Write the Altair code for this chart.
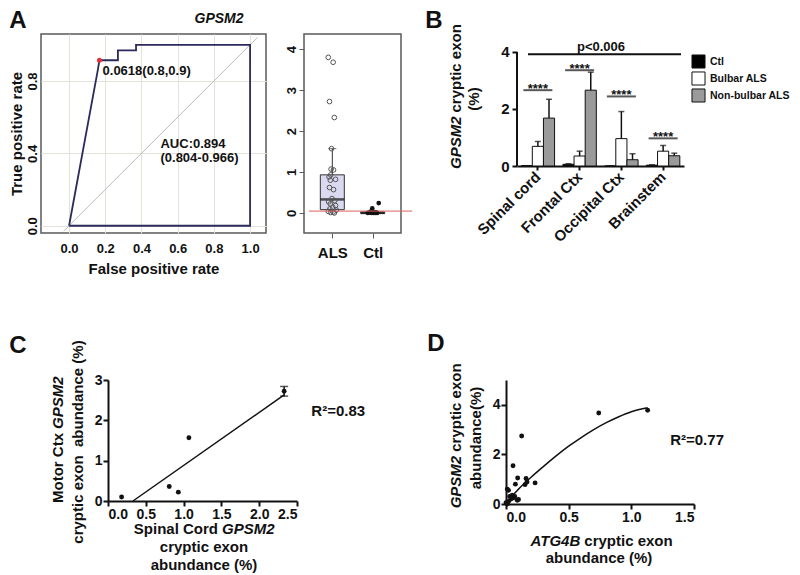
import altair as alt
import pandas as pd

FONT = "Liberation Sans"
INK = "#111111"
LAVENDER = "#dad9f0"
NAVY = "#2a2a5c"
GRID = "#e3e3da"
FRAME = "#5a5a5a"

# ---------------- Panel A (left): ROC curve ----------------
roc_fpr = [0.0, 0.158, 0.168, 0.27, 0.27, 0.37, 0.37, 1.0]
roc_tpr = [0.0, 0.856, 0.915, 0.915, 0.97, 0.97, 1.0, 1.0]
roc_close_fpr = [1.0, 0.0]
roc_close_tpr = [0.0, 0.0]
chance_xy = [-0.03, 1.04]
best_fpr = [0.168]
best_tpr = [0.915]
roc_grid = [0.0, 0.1, 0.2, 0.3, 0.4, 0.5, 0.6, 0.7, 0.8, 0.9, 1.0]
roc_notes = ["0.0618(0.8,0.9)", "AUC:0.894", "(0.804-0.966)"]
roc_note_x = [0.185, 0.505, 0.505]
roc_note_y = [0.855, 0.452, 0.374]

# ---------------- Panel A (right): box plot ----------------
box_pos = [1, 2]
box_low = [0.0, -0.01]
box_q1 = [0.08, -0.01]
box_median = [0.33, 0.0]
box_q3 = [0.93, 0.02]
box_high = [1.57, 0.04]
als_vals = [3.80, 3.68, 2.72, 2.33, 1.57, 1.07, 1.05, 0.93, 0.88, 0.82, 0.80, 0.62, 0.57,
            0.35, 0.30, 0.27, 0.22, 0.18, 0.14, 0.10, 0.07, 0.04, 0.02, 0.01, 0.0]
als_jitter = [0.90, 1.02, 0.93, 1.05, 0.98, 0.97, 1.03, 0.96, 0.92, 1.08, 0.95, 0.93, 1.03,
              0.99, 1.06, 0.91, 0.95, 1.08, 1.01, 0.94, 1.10, 0.90, 1.02, 0.96, 1.05]
ctl_vals = [0.24, 0.11, 0.03, 0.02, 0.01, 0.01, 0.0, 0.0, 0.0, 0.0, 0.0]
ctl_jitter = [2.15, 1.99, 1.95, 2.05, 1.92, 2.09, 1.97, 2.02, 2.11, 1.88, 2.06]
cutoff_value = [0.045]

# ---------------- Panel B: bars ----------------
regions = ["Spinal cord", "Frontal Ctx", "Occipital Ctx", "Brainstem"]
groups = ["Ctl", "Bulbar ALS", "Non-bulbar ALS"]
ctl_mean = [0.01, 0.06, 0.0, 0.03]
ctl_err = [0.0, 0.02, 0.0, 0.01]
bulbar_mean = [0.69, 0.35, 0.96, 0.52]
bulbar_err = [0.17, 0.17, 0.95, 0.20]
nonbulbar_mean = [1.68, 2.66, 0.22, 0.36]
nonbulbar_err = [0.66, 0.63, 0.21, 0.09]
sig_level = [2.66, 3.36, 2.44, 0.97]
overall_p_level = [3.92]

# ---------------- Panel C ----------------
c_x = [0.18, 0.81, 0.93, 1.07, 2.33]
c_y = [0.10, 0.36, 0.22, 1.57, 2.72]
c_err = [0.0, 0.0, 0.0, 0.0, 0.12]
c_fit_x = [0.33, 2.33]
c_fit_y = [0.0, 2.63]

# ---------------- Panel D ----------------
d_x = [1.13, 0.74, 0.125, 0.056, 0.093, 0.16, 0.168, 0.152, 0.232, 0.075,
       0.01, 0.02, 0.03, 0.05, 0.06, 0.07, 0.04, 0.02, 0.0, 0.01, 0.10, 0.09]
d_y = [3.78, 3.67, 2.74, 1.54, 1.05, 1.03, 0.89, 0.78, 0.85, 0.80,
       0.60, 0.55, 0.30, 0.35, 0.25, 0.30, 0.20, 0.10, 0.05, 0.0, 0.18, 0.15]
d_fit_x = [0.0, 0.05, 0.1, 0.2, 0.3, 0.4, 0.5, 0.6, 0.7, 0.8, 0.9, 1.0, 1.13]
d_fit_y = [0.05, 0.32, 0.6, 1.08, 1.52, 1.94, 2.33, 2.68, 3.0, 3.28, 3.52, 3.72, 3.88]


def label(text, x, y, size=15, weight="bold", style="normal", align="center",
          angle=0, dx=0, baseline="middle"):
    return alt.Chart(pd.DataFrame({"t": [text]})).mark_text(
        font=FONT, fontSize=size, fontWeight=weight, fontStyle=style, color=INK,
        align=align, angle=angle, dx=dx, baseline=baseline
    ).encode(x=alt.value(x), y=alt.value(y), text="t:N")


# ======================= ROC =======================
xs_roc = alt.Scale(domain=[-0.155, 1.088], nice=False, zero=False)
ys_roc = alt.Scale(domain=[-0.04, 1.06], nice=False, zero=False)
even = "round(datum.value * 10) % 2 == 0 ? format(datum.value, '.1f') : ''"
roc_xaxis = alt.Axis(values=roc_grid, labelExpr=even, grid=True, gridColor=GRID, ticks=False,
                     domain=False, labelFontSize=13, labelPadding=9, title="False positive rate",
                     titleFontSize=15, titlePadding=6)
roc_yaxis = alt.Axis(values=roc_grid, labelExpr=even, grid=True, gridColor=GRID, ticks=False,
                     domain=False, labelFontSize=13, labelAngle=270, labelAlign="center",
                     labelBaseline="bottom", labelPadding=2, title="True positive rate",
                     titleFontSize=15, titlePadding=2)

roc_df = pd.DataFrame({"fpr": roc_fpr, "tpr": roc_tpr, "base": [0.0] * len(roc_fpr)})
roc_df["i"] = range(len(roc_df))
outline_df = pd.DataFrame({"fpr": roc_fpr + roc_close_fpr, "tpr": roc_tpr + roc_close_tpr})
outline_df["i"] = range(len(outline_df))

roc_area = alt.Chart(roc_df).mark_area(color=LAVENDER, opacity=1).encode(
    x=alt.X("fpr:Q", scale=xs_roc, axis=roc_xaxis),
    y=alt.Y("tpr:Q", scale=ys_roc, axis=roc_yaxis),
    y2="base:Q", order="i:Q")
roc_chance = alt.Chart(pd.DataFrame({"fpr": chance_xy, "tpr": chance_xy})).mark_line(
    color="#bdbdbd", strokeWidth=1).encode(
    x=alt.X("fpr:Q", scale=xs_roc), y=alt.Y("tpr:Q", scale=ys_roc))
roc_line = alt.Chart(outline_df).mark_line(color=NAVY, strokeWidth=1.8).encode(
    x=alt.X("fpr:Q", scale=xs_roc), y=alt.Y("tpr:Q", scale=ys_roc), order="i:Q")
roc_best = alt.Chart(pd.DataFrame({"fpr": best_fpr, "tpr": best_tpr})).mark_point(
    filled=True, color="#e8303a", size=25, opacity=1).encode(
    x=alt.X("fpr:Q", scale=xs_roc), y=alt.Y("tpr:Q", scale=ys_roc))
roc_text = alt.Chart(pd.DataFrame({"fpr": roc_note_x, "tpr": roc_note_y, "note": roc_notes})).mark_text(
    font=FONT, fontSize=13, fontWeight="bold", color=INK, align="left").encode(
    x=alt.X("fpr:Q", scale=xs_roc), y=alt.Y("tpr:Q", scale=ys_roc), text="note:N")

roc = alt.layer(
    roc_area, roc_chance, roc_line, roc_best, roc_text,
    label("A", -23, -13, size=24),
    label("GPSM2", 178, -15, size=14, style="italic"),
).properties(width=225, height=199, view=alt.ViewBackground(stroke=FRAME, strokeWidth=1.5))

# ======================= Box plot =======================
xs_box = alt.Scale(domain=[0.422, 2.578], nice=False, zero=False)
ys_box = alt.Scale(domain=[-0.49, 4.37], nice=False, zero=False)
box_xaxis = alt.Axis(values=box_pos, labelExpr="datum.value == 1 ? 'ALS' : 'Ctl'", grid=False,
                     domain=False, tickSize=5, tickColor=FRAME, labelFontSize=15, labelPadding=7,
                     title=None)
box_yaxis = alt.Axis(values=[0, 1, 2, 3, 4], format="d", grid=False, domain=False, tickSize=5,
                     tickColor=FRAME, labelAngle=270, labelAlign="center", labelBaseline="bottom",
                     labelPadding=1, labelFontSize=13, title=None)

box_df = pd.DataFrame({"pos": box_pos, "low": box_low, "q1": box_q1, "med": box_median,
                       "q3": box_q3, "high": box_high})
als_df = pd.DataFrame({"pos": als_jitter, "v": als_vals})
ctl_df = pd.DataFrame({"pos": ctl_jitter, "v": ctl_vals})
cut_df = pd.DataFrame({"x0": [0.422], "x1": [2.98], "v": cutoff_value})

bx = alt.X("pos:Q", scale=xs_box, axis=box_xaxis)
box_whisk_hi = alt.Chart(box_df).mark_rule(color="#333", strokeWidth=1).encode(
    x=bx, y=alt.Y("q3:Q", scale=ys_box, axis=box_yaxis), y2="high:Q")
box_whisk_lo = alt.Chart(box_df).mark_rule(color="#333", strokeWidth=1).encode(
    x=alt.X("pos:Q", scale=xs_box), y=alt.Y("low:Q", scale=ys_box), y2="q1:Q")
box_cap_hi = alt.Chart(box_df).mark_tick(color="#333", orient="horizontal", size=8, thickness=1).encode(
    x=alt.X("pos:Q", scale=xs_box), y=alt.Y("high:Q", scale=ys_box))
box_body = alt.Chart(box_df).mark_bar(size=24, fill=LAVENDER, stroke="#333", strokeWidth=1).encode(
    x=alt.X("pos:Q", scale=xs_box), y=alt.Y("q1:Q", scale=ys_box), y2="q3:Q")
box_med = alt.Chart(box_df).mark_tick(color=INK, orient="horizontal", size=24, thickness=2.5).encode(
    x=alt.X("pos:Q", scale=xs_box), y=alt.Y("med:Q", scale=ys_box))
box_als = alt.Chart(als_df).mark_point(shape="circle", filled=False, color="#555", size=22,
                                       strokeWidth=1, opacity=1).encode(
    x=alt.X("pos:Q", scale=xs_box), y=alt.Y("v:Q", scale=ys_box))
box_ctl = alt.Chart(ctl_df).mark_point(shape="circle", filled=True, color=INK, size=22, opacity=1).encode(
    x=alt.X("pos:Q", scale=xs_box), y=alt.Y("v:Q", scale=ys_box))
box_cut = alt.Chart(cut_df).mark_rule(color="#e06060", strokeWidth=1).encode(
    x=alt.X("x0:Q", scale=xs_box), x2="x1:Q", y=alt.Y("v:Q", scale=ys_box))

boxp = alt.layer(box_whisk_hi, box_whisk_lo, box_cap_hi, box_body, box_med, box_als, box_ctl,
                 box_cut).properties(width=97, height=199,
                                     view=alt.ViewBackground(stroke=FRAME, strokeWidth=1.5))

# ======================= Panel B =======================
rows = []
for g, means, errs in [(groups[0], ctl_mean, ctl_err), (groups[1], bulbar_mean, bulbar_err),
                       (groups[2], nonbulbar_mean, nonbulbar_err)]:
    for r, m, e in zip(regions, means, errs):
        rows.append({"region": r, "group": g, "v": m, "top": m + e})
b_df = pd.DataFrame(rows)
sig_df = pd.DataFrame({"region": regions, "v": sig_level})

b_xaxis = alt.Axis(title=None, labelAngle=-45, labelAlign="right", labelBaseline="middle",
                   labelFontSize=15, domainColor=INK, domainWidth=2, tickColor=INK, tickWidth=2,
                   tickSize=4, labelPadding=4)
b_yaxis = alt.Axis(title=None, values=[0, 1, 2, 3, 4], domain=False, tickColor=INK, tickWidth=2,
                   tickSize=5, labelFontSize=15, labelPadding=3, grid=False)
xb = alt.X("region:N", sort=regions, scale=alt.Scale(paddingInner=0.2, paddingOuter=0.1), axis=b_xaxis)
xb_plain = alt.X("region:N", sort=regions)
xo = alt.XOffset("group:N", sort=groups, scale=alt.Scale(paddingInner=0, paddingOuter=0))
ys_b = alt.Scale(domain=[0, 4.63], nice=False, zero=True)

# legend position is relative to the top-left plot (panel A ROC) origin
b_bars = alt.Chart(b_df).mark_bar(stroke=INK, strokeWidth=1).encode(
    x=xb, xOffset=xo, y=alt.Y("v:Q", scale=ys_b, axis=b_yaxis),
    color=alt.Color("group:N", sort=groups,
                    scale=alt.Scale(domain=groups, range=["#000000", "#ffffff", "#9a9a9a"]),
                    legend=alt.Legend(title=None, orient="none", legendX=650, legendY=20,
                                      symbolType="square", symbolSize=170, symbolStrokeColor=INK,
                                      symbolStrokeWidth=1, labelFont=FONT, labelFontWeight="bold",
                                      labelFontSize=10.5, labelColor=INK, rowPadding=-3,
                                      labelOffset=4, padding=0)))
b_err = alt.Chart(b_df).mark_rule(color=INK, strokeWidth=1.5).encode(
    x=xb_plain, xOffset=xo, y=alt.Y("v:Q", scale=ys_b), y2="top:Q")
b_cap = alt.Chart(b_df).mark_tick(color=INK, orient="horizontal", size=6, thickness=1.5).encode(
    x=xb_plain, xOffset=xo, y=alt.Y("top:Q", scale=ys_b))
b_sig = alt.Chart(sig_df).mark_tick(color=INK, orient="horizontal", size=29, thickness=2).encode(
    x=xb_plain, y=alt.Y("v:Q", scale=ys_b))
b_stars = alt.Chart(sig_df).mark_text(text="****", font=FONT, fontSize=13, fontWeight="bold",
                                      color=INK, baseline="alphabetic", dy=3).encode(
    x=xb_plain, y=alt.Y("v:Q", scale=ys_b))
one = pd.DataFrame({"k": [0]})
b_pline = alt.Chart(one).mark_rule(color=INK, strokeWidth=2).encode(
    x=alt.value(11), x2=alt.value(164), y=alt.datum(overall_p_level[0]))
b_ptext = alt.Chart(pd.DataFrame({"t": ["p<0.006"]})).mark_text(
    font=FONT, fontSize=13, fontWeight="bold", color=INK).encode(
    x=alt.value(84), y=alt.datum(overall_p_level[0] + 0.24), text="t:N")
b_yline = alt.Chart(one).mark_rule(color=INK, strokeWidth=2).encode(
    x=alt.value(0), y=alt.datum(0), y2=alt.datum(4))

bar = alt.layer(
    b_bars, b_err, b_cap, b_sig, b_stars, b_pline, b_ptext, b_yline,
    label("GPSM2", -61, 80.5, style="italic", align="right", angle=270, dx=-2),
    label("cryptic exon", -61, 80.5, align="left", angle=270, dx=2),
    label("(%)", -43, 65, angle=270),
    label("B", -83, -13, size=24),
).properties(width=167, height=132)

# ======================= Panel C =======================
C_SHIFT = 67  # panel C plot starts 67 px right of panel A's plot
c_df = pd.DataFrame({"x": c_x, "y": c_y, "lo": [a - b for a, b in zip(c_y, c_err)],
                     "hi": [a + b for a, b in zip(c_y, c_err)], "e": c_err})
c_errdf = c_df[c_df["e"] > 0]
xs_c = alt.Scale(domain=[0, 2.5], range=[C_SHIFT, C_SHIFT + 189], nice=False, zero=False)
ys_c = alt.Scale(domain=[0, 3], nice=False, zero=False)


def lin_axis(vals, fmt, offset=0):
    return alt.Axis(values=vals, format=fmt, title=None, grid=False, domainColor=INK, domainWidth=2,
                    tickColor=INK, tickWidth=2, tickSize=5, labelFontSize=14, labelPadding=1,
                    offset=offset)


c_pts = alt.Chart(c_df).mark_circle(size=24, color=INK, opacity=1).encode(
    x=alt.X("x:Q", scale=xs_c, axis=lin_axis([0, 0.5, 1.0, 1.5, 2.0, 2.5], ".1f")),
    y=alt.Y("y:Q", scale=ys_c, axis=lin_axis([0, 1, 2, 3], "d", offset=-C_SHIFT)))
c_fit = alt.Chart(pd.DataFrame({"x": c_fit_x, "y": c_fit_y})).mark_line(color=INK, strokeWidth=1.5).encode(
    x=alt.X("x:Q", scale=xs_c), y=alt.Y("y:Q", scale=ys_c))
c_eb = alt.Chart(c_errdf).mark_rule(color=INK, strokeWidth=1.5).encode(
    x=alt.X("x:Q", scale=xs_c), y=alt.Y("lo:Q", scale=ys_c), y2="hi:Q")
c_cap_hi = alt.Chart(c_errdf).mark_tick(color=INK, orient="horizontal", size=8, thickness=1.5).encode(
    x=alt.X("x:Q", scale=xs_c), y=alt.Y("hi:Q", scale=ys_c))
c_cap_lo = alt.Chart(c_errdf).mark_tick(color=INK, orient="horizontal", size=8, thickness=1.5).encode(
    x=alt.X("x:Q", scale=xs_c), y=alt.Y("lo:Q", scale=ys_c))
c_r2 = alt.Chart(pd.DataFrame({"x": [2.69], "y": [2.23], "t": ["R²=0.83"]})).mark_text(
    font=FONT, fontSize=15, fontWeight="bold", color=INK, align="left").encode(
    x=alt.X("x:Q", scale=xs_c), y=alt.Y("y:Q", scale=ys_c), text="t:N")

S = C_SHIFT
cchart = alt.layer(
    c_fit, c_eb, c_cap_hi, c_cap_lo, c_pts, c_r2,
    label("Motor Ctx", S - 50, 51, align="right", angle=270, dx=-2),
    label("GPSM2", S - 50, 51, style="italic", align="left", angle=270, dx=2),
    label("cryptic exon\u00a0 abundance (%)", S - 30, 62, angle=270),
    label("Spinal Cord", S + 112, 149, align="right", dx=-2),
    label("GPSM2", S + 112, 149, style="italic", align="left", dx=2),
    label("cryptic exon", S + 96, 167),
    label("abundance (%)", S + 96, 185),
    label("C", S - 90, -34, size=24),
).properties(width=C_SHIFT + 189, height=121)

# ======================= Panel D =======================
xs_d = alt.Scale(domain=[0, 1.5], nice=False, zero=False)
ys_d = alt.Scale(domain=[0, 5], nice=False, zero=False)
d_pts = alt.Chart(pd.DataFrame({"x": d_x, "y": d_y})).mark_circle(size=24, color=INK, opacity=1).encode(
    x=alt.X("x:Q", scale=xs_d, axis=lin_axis([0, 0.5, 1.0, 1.5], ".1f")),
    y=alt.Y("y:Q", scale=ys_d, axis=lin_axis([0, 1, 2, 3, 4, 5], "d")))
d_fit = alt.Chart(pd.DataFrame({"x": d_fit_x, "y": d_fit_y})).mark_line(
    color=INK, strokeWidth=1.5, interpolate="monotone").encode(
    x=alt.X("x:Q", scale=xs_d), y=alt.Y("y:Q", scale=ys_d))
d_r2 = alt.Chart(pd.DataFrame({"x": [1.31], "y": [2.6], "t": ["R²=0.77"]})).mark_text(
    font=FONT, fontSize=15, fontWeight="bold", color=INK, align="left").encode(
    x=alt.X("x:Q", scale=xs_d), y=alt.Y("y:Q", scale=ys_d), text="t:N")

dchart = alt.layer(
    d_fit, d_pts, d_r2,
    label("GPSM2", -50, 73.8, style="italic", align="right", angle=270, dx=-2),
    label("cryptic exon", -50, 73.8, align="left", angle=270, dx=2),
    label("abundance(%)", -30, 58, angle=270),
    label("ATG4B", 76.3, 161, style="italic", align="right", dx=-2),
    label("cryptic exon", 76.3, 161, align="left", dx=2),
    label("abundance (%)", 93, 178),
    label("D", -70, -36, size=24),
).properties(width=188, height=124)

gap = alt.Chart(pd.DataFrame({"s": [""]})).mark_text().encode(
    x=alt.value(0), y=alt.value(0), text="s:N").properties(width=40, height=20)

row1 = alt.hconcat(roc, boxp, gap, bar, spacing=38, bounds="flush")
row2 = alt.hconcat(cchart, dchart, spacing=209, bounds="flush")

chart = alt.vconcat(row1, row2, spacing=54).properties(
    padding=0, background="white"
).configure_view(stroke="transparent").configure_axis(
    labelFont=FONT, titleFont=FONT, labelFontWeight="bold", titleFontWeight="bold",
    labelColor=INK, titleColor=INK, labelOverlap=False
)

chart.save("out.html", embed_options={"renderer": "svg", "actions": False})
